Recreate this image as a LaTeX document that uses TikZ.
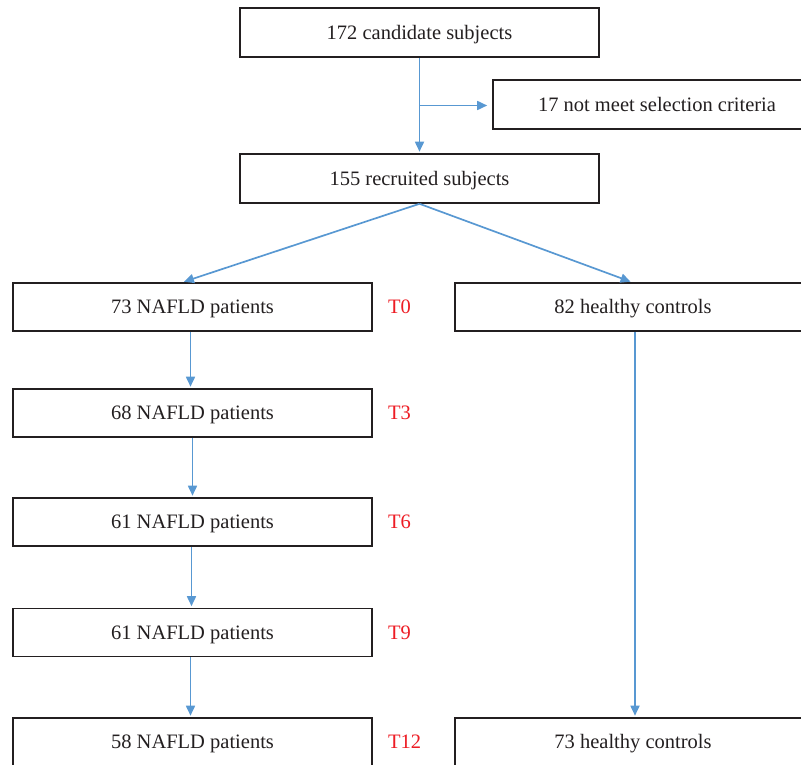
\documentclass[tikz,border=0pt]{standalone}
\usepackage{fontspec}
\setmainfont{Liberation Serif}
\usetikzlibrary{arrows.meta,calc}
\definecolor{lineblue}{RGB}{88,152,210}
\definecolor{boxgray}{RGB}{35,31,32}
\definecolor{tred}{RGB}{237,28,36}
\begin{document}
\begin{tikzpicture}[x=1pt,y=-1pt,
  box/.style={draw=boxgray,line width=1.6pt,minimum height=48pt,inner sep=0pt,text height=13.5pt,text depth=0pt,font=\fontsize{20.5}{22}\selectfont,text=boxgray},
  lbox/.style={box,minimum width=359pt},
  rbox/.style={box,minimum width=356pt},
  conn/.style={draw=lineblue,line width=1.7pt,-{Triangle[length=10pt,width=9pt]}},
  tlabel/.style={anchor=west,text=tred,inner sep=0pt,text height=13.5pt,text depth=0pt,font=\fontsize{20.5}{22}\selectfont}]
\useasboundingbox (0,0) rectangle (801,765);
\clip (0,0) rectangle (801,765);
\node[lbox,minimum height=49pt] (cand) at (419.5,32.5) {172 candidate subjects};
\node[box,minimum width=328pt,minimum height=49pt] (excl) at (657,104.5) {17 not meet selection criteria};
\node[lbox,minimum height=49pt] (rec) at (419.5,178.5) {155 recruited subjects};
\node[lbox] (p0) at (192.5,307) {73 NAFLD patients};
\node[lbox] (p3) at (192.5,413) {68 NAFLD patients};
\node[lbox] (p6) at (192.5,522) {61 NAFLD patients};
\node[lbox] (p9) at (192.5,632.5) {61 NAFLD patients};
\node[lbox] (p12) at (192.5,742) {58 NAFLD patients};
\node[rbox] (h0) at (633,307) {82 healthy controls};
\node[rbox] (h12) at (633,742) {73 healthy controls};
\node[tlabel] (l0) at (388,307) {T0};
\node[tlabel] (l3) at (388,413) {T3};
\node[tlabel] (l6) at (388,522) {T6};
\node[tlabel] (l9) at (388,632.5) {T9};
\node[tlabel] (l12) at (388,742) {T12};
\coordinate (split) at ($(cand.south)!0.5!(rec.north)$);
\draw[conn,shorten >=1.5pt] (cand.south) -- (rec.north);
\draw[conn,shorten >=5pt] (split) -- (excl.west |- split);
\draw[conn,shorten >=1.5pt] (rec.south) -- ($(p0.north)+(-10,0)$);
\draw[conn,shorten >=1.5pt] (rec.south) -- ($(h0.north)+(-1,0)$);
\draw[conn,shorten >=1.5pt] ($(p0.south)+(-2,0)$) -- ($(p3.north)+(-2,0)$);
\draw[conn,shorten >=1.5pt] (p3.south) -- (p6.north);
\draw[conn,shorten >=1.5pt] ($(p6.south)+(-1,0)$) -- ($(p9.north)+(-1,0)$);
\draw[conn,shorten >=1.5pt] ($(p9.south)+(-2,0)$) -- ($(p12.north)+(-2,0)$);
\draw[conn,shorten >=1.5pt] ($(h0.south)+(2,0)$) -- ($(h12.north)+(2,0)$);
\end{tikzpicture}
\end{document}
